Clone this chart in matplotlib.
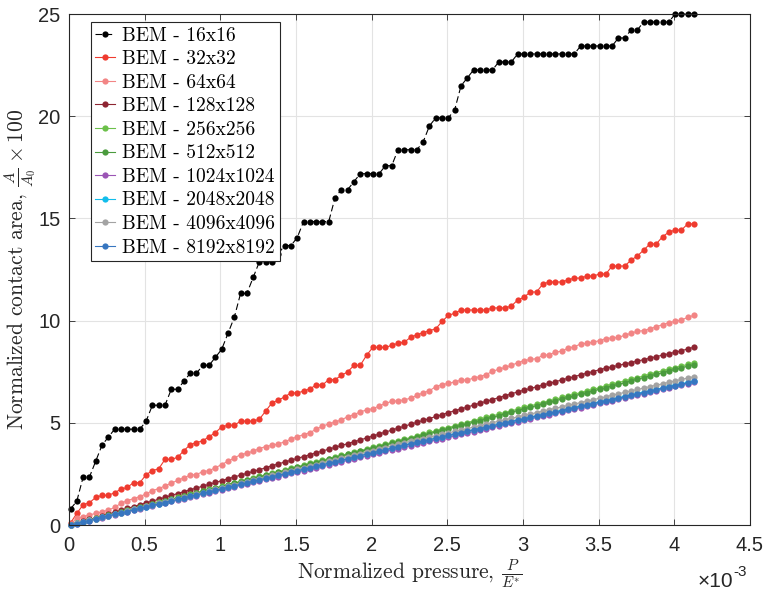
import numpy as np
import matplotlib
matplotlib.use("Agg")
import matplotlib.pyplot as plt
from matplotlib.font_manager import FontProperties

plt.rcParams['font.family'] = ['Liberation Sans', 'DejaVu Sans']
plt.rcParams['mathtext.fontset'] = 'cm'

# Pressure samples (normalized, P/E*)
p_first = 0.01e-3
p_last = 4.13e-3
n_steps = 100
pressure = np.linspace(p_first, p_last, n_steps)

labels = ['BEM - 16x16', 'BEM - 32x32', 'BEM - 64x64', 'BEM - 128x128',
          'BEM - 256x256', 'BEM - 512x512', 'BEM - 1024x1024',
          'BEM - 2048x2048', 'BEM - 4096x4096', 'BEM - 8192x8192']

# 16x16 grid: number of cells in contact (out of 256)
cells16 = [2, 3, 6, 6, 8, 10, 11, 12, 12, 12,
           12, 12, 13, 15, 15, 15, 17, 17, 18, 19,
           19, 20, 20, 21, 22, 24, 26, 29, 29, 31,
           33, 33, 33, 34, 35, 35, 36, 38, 38, 38,
           38, 38, 41, 42, 42, 43, 44, 44, 44, 44,
           45, 45, 47, 47, 47, 47, 48, 50, 51, 51,
           51, 52, 55, 56, 57, 57, 57, 57, 58, 58,
           58, 59, 59, 59, 59, 59, 59, 59, 59, 59,
           59, 60, 60, 60, 60, 60, 60, 61, 61, 62,
           62, 63, 63, 63, 63, 63, 64, 64, 64, 64]

area32 = [0.10, 0.57, 0.99, 1.09, 1.35, 1.45, 1.45, 1.58, 1.75, 1.84,
          2.07, 2.07, 2.46, 2.66, 2.75, 3.21, 3.21, 3.31, 3.64, 3.93,
          4.03, 4.12, 4.32, 4.52, 4.80, 4.88, 4.88, 5.08, 5.08, 5.08,
          5.18, 5.58, 5.98, 6.11, 6.27, 6.46, 6.46, 6.55, 6.66, 6.85,
          6.85, 7.11, 7.11, 7.32, 7.49, 7.81, 7.81, 8.30, 8.69, 8.69,
          8.69, 8.79, 8.89, 8.95, 9.18, 9.31, 9.41, 9.51, 9.60, 9.96,
          10.26, 10.36, 10.52, 10.52, 10.52, 10.52, 10.52, 10.62, 10.62, 10.62,
          10.71, 11.01, 11.14, 11.40, 11.40, 11.79, 11.89, 11.89, 11.89, 11.99,
          12.08, 12.08, 12.18, 12.18, 12.28, 12.28, 12.67, 12.67, 12.67, 12.96,
          13.16, 13.45, 13.75, 13.75, 14.10, 14.33, 14.43, 14.43, 14.73, 14.73]

area64 = [0.05, 0.33, 0.41, 0.49, 0.57, 0.64, 0.73, 0.86, 1.06, 1.19,
          1.29, 1.39, 1.52, 1.68, 1.78, 1.91, 2.05, 2.18, 2.31, 2.44,
          2.47, 2.61, 2.66, 2.80, 2.96, 3.12, 3.28, 3.44, 3.51, 3.61,
          3.74, 3.84, 3.90, 3.97, 4.07, 4.20, 4.32, 4.42, 4.52, 4.68,
          4.84, 4.94, 5.04, 5.14, 5.30, 5.40, 5.53, 5.63, 5.69, 5.82,
          5.95, 6.05, 6.08, 6.12, 6.21, 6.34, 6.47, 6.57, 6.77, 6.87,
          6.93, 7.00, 7.09, 7.09, 7.19, 7.26, 7.36, 7.52, 7.62, 7.71,
          7.81, 7.94, 8.04, 8.10, 8.14, 8.30, 8.33, 8.46, 8.50, 8.66,
          8.72, 8.86, 8.89, 8.95, 9.02, 9.12, 9.15, 9.18, 9.28, 9.38,
          9.48, 9.51, 9.60, 9.70, 9.80, 9.90, 9.96, 10.03, 10.16, 10.26]

area128 = [0.00, 0.09, 0.18, 0.27, 0.36, 0.45, 0.54, 0.63, 0.72, 0.81,
           0.90, 0.99, 1.08, 1.17, 1.26, 1.35, 1.45, 1.54, 1.63, 1.72,
           1.81, 1.90, 1.99, 2.08, 2.17, 2.26, 2.35, 2.44, 2.53, 2.62,
           2.71, 2.80, 2.90, 2.99, 3.08, 3.17, 3.26, 3.35, 3.44, 3.53,
           3.62, 3.71, 3.80, 3.89, 3.98, 4.07, 4.16, 4.26, 4.35, 4.45,
           4.55, 4.64, 4.74, 4.83, 4.93, 5.02, 5.12, 5.21, 5.31, 5.40,
           5.50, 5.59, 5.68, 5.77, 5.87, 5.96, 6.05, 6.14, 6.23, 6.32,
           6.42, 6.51, 6.60, 6.68, 6.76, 6.85, 6.93, 7.01, 7.10, 7.18,
           7.26, 7.35, 7.43, 7.51, 7.60, 7.67, 7.74, 7.81, 7.88, 7.95,
           8.02, 8.09, 8.16, 8.24, 8.31, 8.38, 8.45, 8.53, 8.61, 8.70]

area256 = [0.00, 0.08, 0.16, 0.24, 0.32, 0.40, 0.48, 0.55, 0.63, 0.71,
           0.79, 0.87, 0.95, 1.03, 1.11, 1.19, 1.27, 1.35, 1.43, 1.50,
           1.58, 1.66, 1.74, 1.82, 1.90, 1.98, 2.06, 2.14, 2.22, 2.30,
           2.38, 2.46, 2.53, 2.61, 2.69, 2.77, 2.85, 2.93, 3.01, 3.09,
           3.17, 3.25, 3.33, 3.41, 3.48, 3.56, 3.64, 3.72, 3.80, 3.88,
           3.96, 4.04, 4.12, 4.20, 4.28, 4.36, 4.44, 4.53, 4.61, 4.69,
           4.77, 4.85, 4.93, 5.01, 5.10, 5.18, 5.26, 5.34, 5.42, 5.50,
           5.58, 5.67, 5.75, 5.83, 5.91, 5.99, 6.07, 6.15, 6.24, 6.32,
           6.40, 6.48, 6.56, 6.64, 6.72, 6.81, 6.89, 6.97, 7.05, 7.13,
           7.21, 7.29, 7.38, 7.46, 7.54, 7.62, 7.70, 7.78, 7.86, 7.95]

area512 = [0.00, 0.08, 0.16, 0.23, 0.31, 0.39, 0.47, 0.55, 0.63, 0.70,
           0.78, 0.86, 0.94, 1.02, 1.10, 1.17, 1.25, 1.33, 1.41, 1.49,
           1.57, 1.64, 1.72, 1.80, 1.88, 1.96, 2.04, 2.11, 2.19, 2.27,
           2.35, 2.43, 2.51, 2.58, 2.66, 2.74, 2.82, 2.90, 2.98, 3.05,
           3.13, 3.21, 3.29, 3.37, 3.45, 3.52, 3.60, 3.68, 3.76, 3.84,
           3.92, 3.99, 4.07, 4.15, 4.23, 4.31, 4.39, 4.47, 4.55, 4.63,
           4.71, 4.79, 4.87, 4.95, 5.03, 5.11, 5.19, 5.27, 5.35, 5.44,
           5.52, 5.60, 5.68, 5.76, 5.84, 5.92, 6.00, 6.08, 6.16, 6.24,
           6.32, 6.40, 6.48, 6.56, 6.64, 6.72, 6.80, 6.88, 6.96, 7.05,
           7.13, 7.21, 7.29, 7.37, 7.45, 7.53, 7.61, 7.69, 7.77, 7.85]

area1024 = [0.00, 0.07, 0.14, 0.22, 0.29, 0.36, 0.43, 0.50, 0.58, 0.65,
            0.72, 0.79, 0.86, 0.93, 1.01, 1.08, 1.15, 1.22, 1.29, 1.37,
            1.44, 1.51, 1.58, 1.65, 1.73, 1.80, 1.87, 1.94, 2.01, 2.09,
            2.16, 2.23, 2.30, 2.37, 2.44, 2.52, 2.59, 2.66, 2.73, 2.80,
            2.88, 2.95, 3.02, 3.09, 3.16, 3.24, 3.31, 3.38, 3.45, 3.52,
            3.60, 3.67, 3.74, 3.81, 3.88, 3.95, 4.02, 4.09, 4.16, 4.22,
            4.29, 4.36, 4.43, 4.50, 4.57, 4.64, 4.71, 4.78, 4.85, 4.92,
            4.98, 5.05, 5.12, 5.19, 5.26, 5.33, 5.40, 5.47, 5.54, 5.61,
            5.67, 5.74, 5.81, 5.88, 5.95, 6.02, 6.09, 6.16, 6.23, 6.30,
            6.37, 6.43, 6.50, 6.57, 6.64, 6.71, 6.78, 6.85, 6.92, 6.99]

area2048 = [0.00, 0.09, 0.17, 0.24, 0.31, 0.39, 0.46, 0.54, 0.61, 0.68,
            0.76, 0.83, 0.90, 0.98, 1.05, 1.12, 1.20, 1.27, 1.34, 1.42,
            1.49, 1.57, 1.64, 1.71, 1.79, 1.86, 1.93, 2.01, 2.08, 2.15,
            2.23, 2.30, 2.38, 2.45, 2.52, 2.60, 2.67, 2.74, 2.82, 2.89,
            2.96, 3.04, 3.11, 3.18, 3.26, 3.33, 3.41, 3.48, 3.55, 3.63,
            3.70, 3.77, 3.85, 3.92, 3.99, 4.06, 4.12, 4.19, 4.26, 4.33,
            4.40, 4.46, 4.53, 4.60, 4.67, 4.74, 4.80, 4.87, 4.94, 5.01,
            5.08, 5.14, 5.21, 5.28, 5.35, 5.42, 5.48, 5.55, 5.62, 5.69,
            5.76, 5.82, 5.89, 5.96, 6.03, 6.10, 6.16, 6.23, 6.30, 6.37,
            6.44, 6.50, 6.57, 6.64, 6.71, 6.78, 6.84, 6.91, 6.98, 7.05]

area4096 = [0.00, 0.08, 0.15, 0.23, 0.30, 0.38, 0.45, 0.53, 0.61, 0.68,
            0.76, 0.83, 0.91, 0.99, 1.06, 1.14, 1.21, 1.29, 1.36, 1.44,
            1.52, 1.59, 1.67, 1.74, 1.82, 1.90, 1.97, 2.05, 2.12, 2.20,
            2.27, 2.35, 2.43, 2.50, 2.58, 2.65, 2.73, 2.80, 2.88, 2.96,
            3.03, 3.11, 3.18, 3.26, 3.34, 3.41, 3.49, 3.56, 3.64, 3.71,
            3.79, 3.87, 3.94, 4.02, 4.09, 4.16, 4.23, 4.30, 4.37, 4.44,
            4.51, 4.58, 4.65, 4.72, 4.79, 4.86, 4.93, 5.01, 5.08, 5.15,
            5.22, 5.29, 5.36, 5.43, 5.50, 5.57, 5.64, 5.71, 5.78, 5.85,
            5.92, 5.99, 6.06, 6.13, 6.20, 6.27, 6.35, 6.42, 6.49, 6.56,
            6.63, 6.70, 6.77, 6.84, 6.91, 6.98, 7.05, 7.12, 7.19, 7.26]

area8192 = [0.00, 0.07, 0.15, 0.22, 0.29, 0.37, 0.44, 0.52, 0.59, 0.66,
            0.74, 0.81, 0.88, 0.96, 1.03, 1.10, 1.18, 1.25, 1.32, 1.40,
            1.47, 1.55, 1.62, 1.69, 1.77, 1.84, 1.91, 1.99, 2.06, 2.13,
            2.21, 2.28, 2.36, 2.43, 2.50, 2.58, 2.65, 2.72, 2.80, 2.87,
            2.94, 3.02, 3.09, 3.16, 3.24, 3.31, 3.39, 3.46, 3.53, 3.61,
            3.68, 3.75, 3.83, 3.90, 3.97, 4.04, 4.10, 4.17, 4.24, 4.31,
            4.38, 4.44, 4.51, 4.58, 4.65, 4.72, 4.78, 4.85, 4.92, 4.99,
            5.06, 5.12, 5.19, 5.26, 5.33, 5.40, 5.46, 5.53, 5.60, 5.67,
            5.74, 5.80, 5.87, 5.94, 6.01, 6.08, 6.14, 6.21, 6.28, 6.35,
            6.42, 6.48, 6.55, 6.62, 6.69, 6.76, 6.82, 6.89, 6.96, 7.03]

area16 = np.array(cells16) / 256 * 100

series = [area16, area32, area64, area128, area256, area512,
          area1024, area2048, area4096, area8192]
colors = ['#000000', '#EF3B2F', '#F28585', '#8E2532', '#6CC04A',
          '#4A9B3D', '#9B55B5', '#12BDEB', '#A3A3A3', '#3776C0']

fig = plt.figure(figsize=(7.66, 5.97), dpi=100)
ax = fig.add_axes([0.0901, 0.1206, 0.8890, 0.8559])

for i, (y, c, lab) in enumerate(zip(series, colors, labels)):
    ls = (0, (6, 3)) if i == 0 else '-'
    ax.plot(pressure, y, linestyle=ls, color=c, lw=0.8, marker='o',
            markersize=4.5, markeredgewidth=0, label=lab, clip_on=False)

ax.set_xlim(0, 4.5e-3)
ax.set_ylim(0, 25)
xt = np.arange(0, 4.51, 0.5)
ax.set_xticks(xt * 1e-3)
ax.set_xticklabels(['%g' % v for v in xt])
ax.set_yticks([0, 5, 10, 15, 20, 25])

ax.tick_params(direction='in', length=4.5, width=0.6, top=True, right=True,
               labelsize=14.5, colors='#262626')
ax.tick_params(axis='x', pad=8)
ax.tick_params(axis='y', pad=6)
for s in ax.spines.values():
    s.set_color('#262626')
    s.set_linewidth(0.8)
ax.grid(True, color='#E3E3E3', lw=0.8)
ax.set_axisbelow(True)

cm_font = FontProperties(family='cmr10', size=15.5)
ax.set_xlabel(r'Normalized pressure, $\frac{P}{E^{*}}$', fontproperties=cm_font,
              color='#262626', labelpad=2)
ax.set_ylabel(r'Normalized contact area, $\frac{A}{A_0}\times 100$',
              fontproperties=cm_font, color='#262626', labelpad=0)

# exponent label like the original
fig.text(733 / 766, 1 - 587 / 597, '\u00d710', ha='right', va='baseline',
         fontsize=15, color='#262626')
fig.text(733 / 766, 1 - 576 / 597, '-3', ha='left', va='baseline',
         fontsize=11, color='#262626')

leg = ax.legend(loc='upper left', bbox_to_anchor=(0.0319, 0.9838),
                borderaxespad=0, prop=FontProperties(family='cmr10', size=14),
                handlelength=1.05, handletextpad=0.35, labelspacing=0.29,
                borderpad=0.22, fancybox=False, framealpha=1, edgecolor='#262626')
leg.get_frame().set_linewidth(0.8)

fig.savefig('out.png', dpi=100)
